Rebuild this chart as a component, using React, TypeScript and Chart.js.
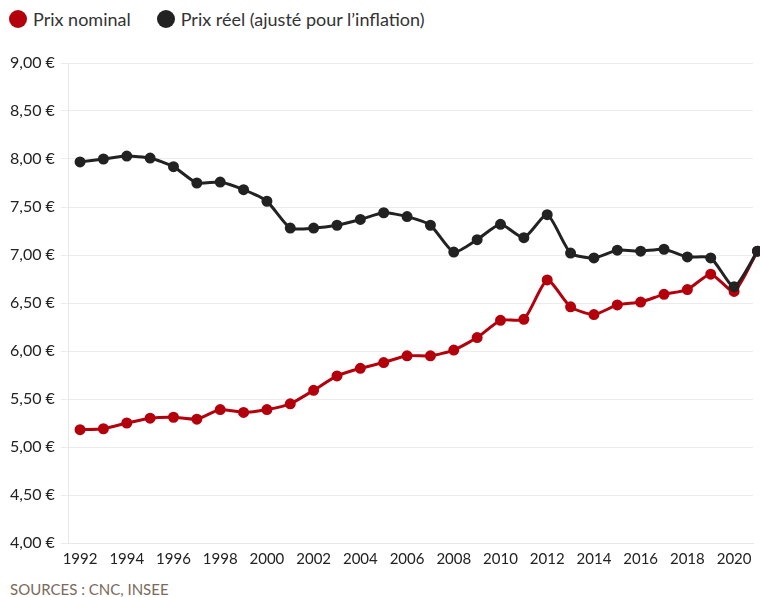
import React, { useEffect, useRef } from "react";
import { Chart, registerables } from "chart.js";

Chart.register(...registerables);

const years = [1992,1993,1994,1995,1996,1997,1998,1999,2000,2001,2002,2003,2004,2005,2006,2007,2008,2009,2010,2011,2012,2013,2014,2015,2016,2017,2018,2019,2020,2021];
const nominal = [5.18,5.19,5.25,5.30,5.31,5.29,5.39,5.36,5.39,5.45,5.59,5.74,5.82,5.88,5.95,5.95,6.01,6.14,6.32,6.33,6.74,6.46,6.38,6.48,6.51,6.59,6.64,6.80,6.62,7.04];
const real = [7.97,8.00,8.03,8.01,7.92,7.75,7.76,7.68,7.56,7.28,7.28,7.31,7.37,7.44,7.40,7.31,7.03,7.16,7.32,7.18,7.42,7.02,6.97,7.05,7.04,7.06,6.98,6.97,6.67,7.04];
const tickYears = [1992,1994,1996,1998,2000,2002,2004,2006,2008,2010,2012,2014,2016,2018,2020];

const RED = "#b3000c";
const BLACK = "#222222";
const FONT = "Lato, 'Open Sans', sans-serif";

export default function App() {
  const ref = useRef<HTMLCanvasElement>(null);
  useEffect(() => {
    document.body.style.margin = "0";
    const chart = new Chart(ref.current!, {
      type: "line",
      data: {
        datasets: [
          {
            label: "Prix réel (ajusté pour l’inflation)",
            data: years.map((y, i) => ({ x: y, y: real[i] })),
            borderColor: BLACK,
            backgroundColor: BLACK,
            borderWidth: 3,
            pointRadius: 4,
            pointHoverRadius: 4,
            tension: 0.2,
            order: 0,
          },
          {
            label: "Prix nominal",
            data: years.map((y, i) => ({ x: y, y: nominal[i] })),
            borderColor: RED,
            backgroundColor: RED,
            borderWidth: 3,
            pointRadius: 4,
            pointHoverRadius: 4,
            tension: 0.2,
            order: 1,
          },
        ],
      },
      options: {
        animation: false,
        responsive: false,
        maintainAspectRatio: false,
        clip: false,
        layout: { padding: { top: 23, right: 0, left: 4, bottom: 0 } },
        plugins: { legend: { display: false }, tooltip: { enabled: false } },
        scales: {
          x: {
            type: "linear",
            min: 1991.52,
            max: 2020.81,
            afterBuildTicks: (axis: any) => {
              axis.ticks = tickYears.map((v) => ({ value: v }));
            },
            grid: { display: false, drawTicks: false },
            border: { display: true, color: "#e8e8e8" },
            ticks: {
              color: "#222",
              font: { family: FONT, size: 15 },
              padding: 7,
              maxRotation: 0,
              autoSkip: false,
              callback: (v: any) => String(v),
            },
          },
          y: {
            min: 4,
            max: 9,
            grid: { color: "#ececec", drawTicks: true, tickLength: 8, lineWidth: 1 },
            border: { display: true, color: "#e8e8e8" },
            ticks: {
              stepSize: 0.5,
              color: "#222",
              font: { family: FONT, size: 16 },
              padding: 6,
              callback: (v: any) => Number(v).toFixed(2).replace(".", ",") + " €",
            },
          },
        },
      },
    });
    return () => chart.destroy();
  }, []);

  return (
    <div style={{ position: "relative", width: 760, height: 597, background: "#fff", fontFamily: FONT }}>
      <div style={{ position: "absolute", top: 8, left: 9, display: "flex", alignItems: "center", fontSize: 18, color: "#333" }}>
        <span style={{ width: 18, height: 18, borderRadius: 9, background: RED, display: "inline-block", marginRight: 6 }} />
        <span style={{ marginRight: 26 }}>Prix nominal</span>
        <span style={{ width: 18, height: 18, borderRadius: 9, background: BLACK, display: "inline-block", marginRight: 6 }} />
        <span>Prix réel (ajusté pour l’inflation)</span>
      </div>
      <canvas ref={ref} width={760} height={535} style={{ position: "absolute", top: 40, left: 0, width: 760, height: 535 }} />
      <div style={{ position: "absolute", top: 580, left: 10, fontSize: 15, color: "#7a6a5c" }}>SOURCES : CNC, INSEE</div>
    </div>
  );
}
